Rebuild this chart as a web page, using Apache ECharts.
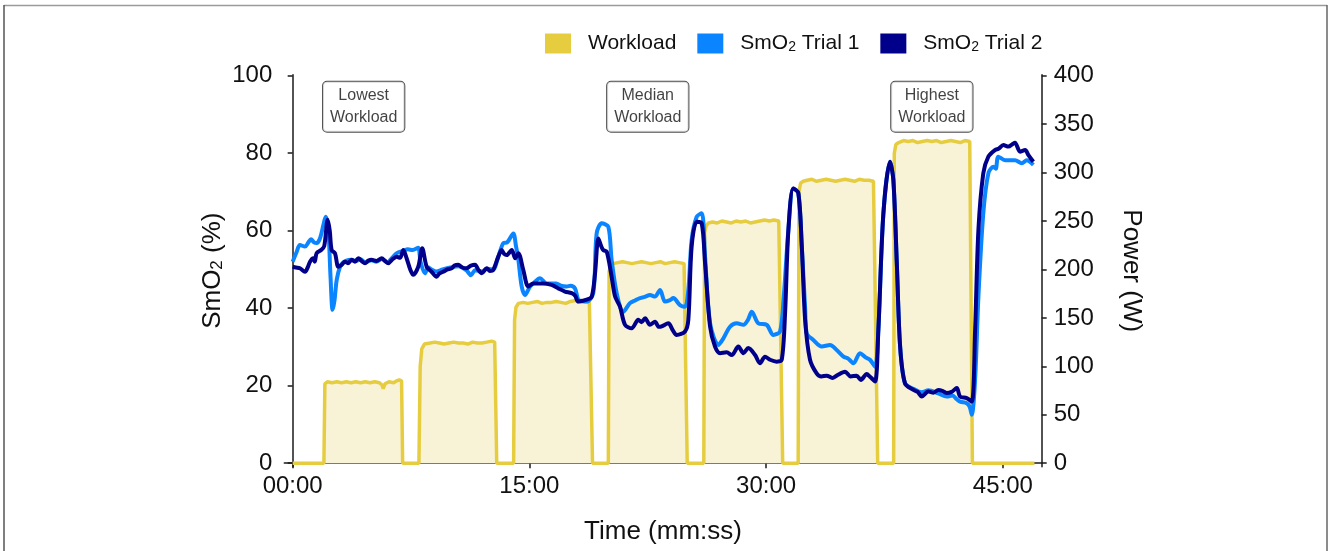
<!DOCTYPE html>
<html>
<head>
<meta charset="utf-8">
<script src="https://cdn.jsdelivr.net/npm/echarts@6/dist/echarts.min.js"></script>
<style>
html,body{margin:0;padding:0;background:#fff;}
#chart{width:1328px;height:551px;}
</style>
</head>
<body>
<div id="chart"></div>
<script>
// ---- data (time in minutes) ----
const workTime = [0,1.98,2.04,2.2,2.5,2.8,3.1,3.4,3.7,4.0,4.3,4.6,4.9,5.2,5.5,5.65,5.74,5.85,6.1,6.4,6.6,6.75,6.9,6.97,
  8.0,8.08,8.18,8.35,8.7,9.0,9.3,9.6,9.9,10.2,10.5,10.8,11.1,11.4,11.7,12.0,12.3,12.6,12.8,12.93,
  14.0,14.06,14.15,14.3,14.6,14.9,15.2,15.5,15.8,16.1,16.4,16.7,17.0,17.3,17.6,17.9,18.2,18.5,18.8,19.0,
  20.0,20.05,20.15,20.3,20.6,20.9,21.2,21.5,21.8,22.1,22.4,22.7,23.0,23.3,23.6,23.9,24.2,24.5,24.8,25.0,
  26.05,26.1,26.2,26.35,26.6,26.9,27.2,27.5,27.8,28.1,28.4,28.7,29.0,29.3,29.6,29.9,30.2,30.5,30.8,31.05,
  32.03,32.08,32.18,32.35,32.6,32.9,33.2,33.5,33.8,34.1,34.4,34.7,35.0,35.3,35.6,35.9,36.2,36.5,36.8,37.07,
  38.08,38.12,38.22,38.4,38.7,39.0,39.3,39.6,39.9,40.2,40.5,40.8,41.1,41.4,41.7,42.0,42.3,42.6,42.9,43.07,
  47.0];
const workload = [0,0,82,84,83,84,83,84,83,84,83,84,83,84,83,81,77,82,84,83,85,86,85,0,
  0,100,118,123,124,125,124,123,124,125,124,124,123,125,124,124,125,126,125,0,
  0,148,161,165,166,165,166,167,165,166,166,167,166,165,167,168,166,167,166,0,
  0,198,204,206,207,208,207,206,207,208,207,206,207,208,206,207,208,207,206,0,
  0,238,245,248,249,248,250,249,248,250,249,250,248,249,250,251,250,251,250,0,
  0,280,289,291,292,293,291,292,293,292,291,292,293,292,291,293,292,292,291,0,
  0,320,329,331,333,332,333,331,332,333,332,333,331,332,333,332,331,333,332,0,
  0];

const t1Time = [0.0,0.25,0.46,0.78,1.0,1.16,1.35,1.52,1.73,1.95,2.09,2.26,2.4,2.53,2.65,2.79,3.0,3.2,3.4,3.7,4.0,4.3,4.6,5.0,5.3,5.64,6.0,6.3,6.6,7.0,7.3,7.6,7.95,8.1,8.38,8.6,8.8,9.1,9.5,10.0,10.5,11.0,11.3,11.56,12.0,12.3,12.7,13.03,13.35,13.6,13.98,14.15,14.3,14.51,14.72,15.04,15.3,15.67,16.1,16.7,17.0,17.36,17.6,17.89,18.1,18.3,18.63,19.05,19.26,19.58,20.0,20.21,20.53,20.95,21.37,21.7,22.0,22.3,22.64,22.95,23.28,23.59,23.91,24.12,24.54,24.86,25.07,25.28,25.6,25.92,26.13,26.45,26.97,27.29,27.71,28.14,28.56,28.85,29.09,29.5,30.04,30.46,30.88,31.1,31.41,31.72,32.04,32.26,32.47,32.57,32.99,33.52,34.05,34.47,34.9,35.2,35.53,35.95,36.3,36.58,36.9,37.11,37.43,37.85,38.06,38.28,38.49,38.8,39.33,39.86,40.28,40.91,41.44,41.8,42.08,42.29,42.71,42.9,43.03,43.24,43.45,43.76,44.08,44.4,44.55,44.71,45.14,45.77,46.2,46.51,46.93];
const smo2Trial1 = [52.0,54.5,56.3,55.9,57.0,57.8,57.0,56.8,58.0,61.5,63.6,60.2,48.0,39.6,42.0,47.3,50.7,51.8,52.3,52.5,52.2,52.6,51.8,52.4,52.0,52.7,51.8,53.0,54.2,54.8,55.2,55.0,55.6,52.0,49.0,50.5,50.0,49.5,50.0,50.5,50.8,49.8,48.5,49.8,49.5,50.2,50.0,53.3,56.8,57.0,59.3,56.0,52.5,45.6,43.4,45.6,46.6,47.7,46.4,46.4,45.8,45.6,45.8,45.1,42.1,41.9,41.7,43.9,59.3,61.9,61.0,52.5,43.9,39.1,41.3,42.0,42.6,42.9,43.4,43.0,44.7,41.7,42.1,42.6,40.8,40.4,44.7,57.6,63.6,64.5,53.3,36.1,30.5,32.2,35.2,36.1,35.7,37.0,39.1,36.1,35.7,33.1,34.0,42.1,60.2,70.9,69.7,55.9,40.0,33.5,31.8,30.1,30.5,29.2,27.5,27.0,25.8,28.4,27.3,26.7,24.9,34.4,64.5,77.8,73.1,51.6,30.1,20.6,19.2,18.3,18.8,18.0,17.2,17.5,16.5,15.9,15.5,14.5,12.5,21.5,43.0,64.5,74.8,76.5,76.0,79.1,78.2,78.2,77.4,78.2,77.0];

const t2Time = [0.0,0.2,0.46,0.78,0.95,1.1,1.3,1.4,1.52,1.8,2.0,2.22,2.35,2.47,2.68,2.89,3.1,3.31,3.5,3.74,3.95,4.16,4.4,4.58,4.8,5.0,5.3,5.64,5.85,6.06,6.3,6.59,6.8,7.01,7.22,7.45,7.64,7.96,8.21,8.49,8.8,9.12,9.3,9.54,9.8,10.07,10.25,10.49,10.75,11.0,11.3,11.56,11.75,11.98,12.3,12.5,12.7,13.03,13.24,13.4,13.56,13.88,14.1,14.3,14.61,14.93,15.25,15.88,16.41,16.83,17.25,17.68,17.9,18.1,18.63,18.95,19.16,19.37,19.55,19.68,19.9,20.21,20.43,20.74,21.06,21.48,21.9,22.1,22.33,22.64,22.96,23.2,23.38,23.8,24.1,24.33,24.86,25.07,25.28,25.6,25.92,26.13,26.45,26.76,27.08,27.5,27.82,28.24,28.56,28.87,29.3,29.61,29.93,30.25,30.67,30.99,31.2,31.41,31.72,32.04,32.26,32.47,32.78,33.2,33.5,33.84,34.2,34.47,35.0,35.35,35.73,36.0,36.37,36.58,36.9,37.11,37.43,37.85,38.06,38.28,38.49,38.8,39.33,39.6,39.86,40.28,40.6,40.91,41.2,41.44,41.75,42.08,42.29,42.71,43.03,43.24,43.45,43.76,44.08,44.5,44.75,45.03,45.35,45.6,45.77,46.09,46.41,46.62,46.93];
const smo2Trial2 = [50.7,50.5,50.3,49.4,50.5,52.0,52.9,52.0,54.2,55.0,56.0,62.8,60.0,55.0,54.2,50.7,51.2,52.0,51.6,52.5,52.0,52.9,52.1,51.6,52.3,52.5,52.2,52.9,52.2,51.6,52.5,53.3,53.0,55.0,52.9,50.0,48.6,50.7,55.5,50.7,49.4,48.1,49.0,49.4,50.0,50.3,51.0,51.2,50.5,50.3,51.0,51.2,50.0,49.0,50.3,49.6,49.8,53.3,55.0,54.0,53.7,55.0,52.9,54.2,49.9,45.6,46.4,46.4,46.0,45.1,44.3,43.9,43.2,41.7,42.2,43.0,49.0,58.0,56.0,55.0,54.6,48.1,43.0,40.4,35.7,34.8,37.0,36.4,37.4,35.7,36.5,35.2,35.3,36.1,34.2,33.1,34.0,37.0,55.9,62.3,61.9,51.6,35.2,30.1,28.4,28.6,27.9,30.1,28.4,29.7,27.9,25.8,27.5,26.7,26.2,26.7,38.7,60.2,70.9,69.7,55.9,37.0,26.7,23.2,22.4,22.6,22.0,22.6,23.6,22.4,22.6,21.5,23.0,22.3,21.1,34.4,64.5,77.8,73.1,51.6,30.1,20.6,18.9,18.4,17.2,18.5,18.2,18.9,18.6,18.1,18.4,19.4,17.2,16.8,15.9,34.4,60.2,74.8,79.1,80.8,81.2,82.1,81.7,82.3,82.7,80.4,80.8,79.5,77.8];

const xTicks = [0, 15, 30, 45];
const leftTicks = [0, 20, 40, 60, 80, 100];
const rightTicks = [0, 50, 100, 150, 200, 250, 300, 350, 400];
const annotTimes = [4.5, 22.5, 40.5];
const annotLevel = 92;
const annotLabels = ['Lowest\nWorkload', 'Median\nWorkload', 'Highest\nWorkload'];

const zip = (a, b) => a.map((v, i) => [v, b[i]]);
const FONT = "'Liberation Sans', Arial, sans-serif";
const fmtTime = v => String(Math.round(v)).padStart(2, '0') + ':00';

const chart = echarts.init(document.getElementById('chart'), null, {renderer: 'canvas'});
const axisCommon = {
  axisLine: {show: true, lineStyle: {color: '#1a1a1a', width: 1.5}},
  splitLine: {show: false}
};
const tick = vals => ({show: true, customValues: vals, length: 5, lineStyle: {color: '#1a1a1a', width: 1.5}});
chart.setOption({
  animation: false,
  textStyle: {fontFamily: FONT},
  graphic: [
    {type: 'line', shape: {x1: 4, y1: 5.5, x2: 1327, y2: 5.5}, style: {stroke: '#9a9a9a', lineWidth: 1.5}},
    {type: 'line', shape: {x1: 4, y1: 5, x2: 4, y2: 551}, style: {stroke: '#555', lineWidth: 1.5}},
    {type: 'line', shape: {x1: 1327, y1: 5, x2: 1327, y2: 551}, style: {stroke: '#666', lineWidth: 1.5}}
  ],
  grid: {left: 284.3, right: 286.3, top: 74.7, bottom: 84.3, containLabel: false},
  legend: {
    data: ['Workload', 'SmO2 Trial 1', 'SmO2 Trial 2'],
    left: 540, top: 28, itemWidth: 26, itemGap: 21, itemHeight: 20,
    icon: 'rect',
    formatter: n => n.replace('SmO2', 'SmO{sub|2}'),
    textStyle: {fontSize: 21, color: '#111', fontFamily: FONT, padding: [0, 0, 0, 12],
      rich: {sub: {fontSize: 14, verticalAlign: 'bottom', fontFamily: FONT, color: '#111', padding: [8, 0, 0, 0]}}}
  },
  xAxis: Object.assign({
    type: 'value', min: -0.53, max: 47.46,
    name: 'Time (mm:ss)', nameLocation: 'middle', nameGap: 52,
    nameTextStyle: {fontSize: 26, color: '#111', fontFamily: FONT},
    axisLabel: {customValues: xTicks, formatter: fmtTime, fontSize: 24, color: '#111', margin: 8, fontFamily: FONT},
    axisTick: tick(xTicks)
  }, axisCommon),
  yAxis: [
    Object.assign({
      type: 'value', min: -0.9, max: 100.25, position: 'left',
      name: 'SmO{sub|2} (%)', nameLocation: 'middle', nameGap: 58, nameMoveOverlap: false,
      nameTextStyle: {fontSize: 26, color: '#111', fontFamily: FONT,
        rich: {sub: {fontSize: 17, verticalAlign: 'bottom', fontFamily: FONT, color: '#111', padding: [10, 0, 0, 0]}}},
      axisLabel: {customValues: leftTicks, fontSize: 24, color: '#111', margin: 12, fontFamily: FONT},
      axisTick: tick(leftTicks)
    }, axisCommon),
    Object.assign({
      type: 'value', min: -3.6, max: 401, position: 'right',
      name: 'Power (W)', nameLocation: 'middle', nameGap: 76, nameRotate: -90,
      nameTextStyle: {fontSize: 26, color: '#111', fontFamily: FONT},
      axisLabel: {customValues: rightTicks, fontSize: 24, color: '#111', margin: 12, fontFamily: FONT},
      axisTick: tick(rightTicks)
    }, axisCommon)
  ],
  series: [
    {
      name: 'Workload', type: 'line', yAxisIndex: 1, data: zip(workTime, workload),
      symbol: 'none', color: '#E6CD40', z: 1,
      lineStyle: {width: 3.5, color: '#E6CD40'},
      areaStyle: {color: '#F8F2D7', opacity: 1}
    },
    {
      name: 'SmO2 Trial 1', type: 'line', yAxisIndex: 0, data: zip(t1Time, smo2Trial1),
      symbol: 'none', smooth: 0.3, color: '#0A84FF', z: 3,
      lineStyle: {width: 4, color: '#0A84FF'}
    },
    {
      name: 'SmO2 Trial 2', type: 'line', yAxisIndex: 0, data: zip(t2Time, smo2Trial2),
      symbol: 'none', smooth: 0.3, color: '#00008B', z: 4,
      lineStyle: {width: 4, color: '#00008B'}
    },
    {
      name: 'annotations', type: 'scatter', yAxisIndex: 0, symbolSize: 0, z: 5, silent: true,
      data: annotTimes.map((t, i) => ({value: [t, annotLevel], name: annotLabels[i]})),
      label: {
        show: true, position: 'inside', formatter: p => p.name,
        fontSize: 16, lineHeight: 22, color: '#111', align: 'center', fontFamily: FONT,
        backgroundColor: '#fff', borderColor: '#222', borderWidth: 1, borderRadius: 4, padding: [3, 7]
      }
    }
  ]
});
</script>
</body>
</html>
